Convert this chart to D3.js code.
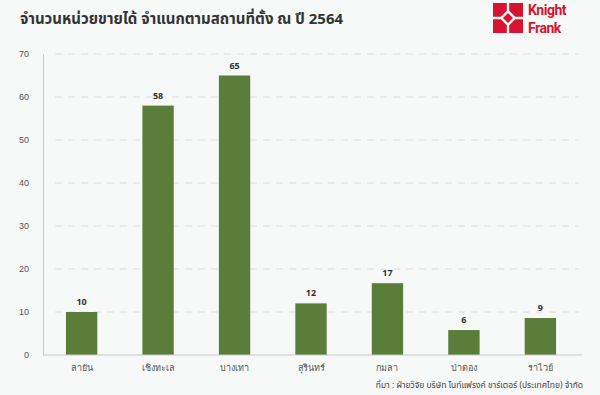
<!DOCTYPE html>
<meta charset="utf-8">
<style>
    body { margin: 0; background: #f7f8f8; }
    svg { font-family: "Noto Sans", "Noto Sans Thai", sans-serif; }
    .grid line { stroke: #dcdede; stroke-dasharray: 7,6; }
    .tick text { fill: #555; font-size: 9px; }
</style>
<body>
<script src="https://d3js.org/d3.v7.min.js"></script>
<script>
    // data
    var locations = ["ลายัน", "เชิงทะเล", "บางเทา", "สุรินทร์", "กมลา", "ป่าตอง", "ราไวย์"];
    var unitsSold = [10, 58, 65, 12, 16.7, 5.8, 8.6];
    var yTicks = [0, 10, 20, 30, 40, 50, 60, 70];

    var W = 600, H = 395;
    var margin = { top: 54, right: 21, bottom: 40, left: 43 };

    var svg = d3.select("body").append("svg")
        .attr("width", W)
        .attr("height", H);

    svg.append("rect").attr("width", W).attr("height", H).attr("fill", "#f7f8f8");

    var x = d3.scaleBand()
        .domain(locations)
        .range([margin.left, W - margin.right])
        .paddingInner(0.59)
        .paddingOuter(0.3);

    var y = d3.scaleLinear()
        .domain([0, 70])
        .range([H - margin.bottom, margin.top]);

    var fmt = d3.format(".0f");

    // dashed grid
    svg.append("g")
        .attr("class", "grid")
        .selectAll("line")
        .data(yTicks.slice(1))
        .enter().append("line")
        .attr("x1", margin.left + 12)
        .attr("x2", W - margin.right)
        .attr("y1", function(d) { return y(d); })
        .attr("y2", function(d) { return y(d); });

    // y axis
    var yAxis = svg.append("g")
        .attr("transform", "translate(" + margin.left + ",0)")
        .call(d3.axisLeft(y).tickValues(yTicks).tickSize(0).tickPadding(14));
    yAxis.select(".domain").attr("stroke", "#c8cbcb");

    // bars
    svg.selectAll(".bar")
        .data(unitsSold)
        .enter().append("rect")
        .attr("class", "bar")
        .attr("x", function(d, i) { return x(locations[i]); })
        .attr("width", x.bandwidth())
        .attr("y", function(d) { return y(d); })
        .attr("height", function(d) { return y(0) - y(d); })
        .attr("fill", "#5a7d3a");

    // value labels
    svg.selectAll(".val")
        .data(unitsSold)
        .enter().append("text")
        .attr("x", function(d, i) { return x(locations[i]) + x.bandwidth() / 2; })
        .attr("y", function(d) { return y(d) - 7; })
        .attr("text-anchor", "middle")
        .attr("font-size", 9)
        .attr("font-weight", "bold")
        .attr("fill", "#333")
        .text(function(d) { return fmt(d); });

    // x axis
    var xAxis = svg.append("g")
        .attr("transform", "translate(0," + y(0) + ")")
        .call(d3.axisBottom(x).tickSize(0).tickPadding(10));
    xAxis.select(".domain").attr("stroke", "#c8cbcb").attr("d", "M" + margin.left + ",0H" + (W - 18));

    // title
    svg.append("text")
        .attr("x", 20)
        .attr("y", 24)
        .attr("font-size", 15)
        .attr("font-weight", "bold")
        .attr("fill", "#333")
        .text("จำนวนหน่วยขายได้ จำแนกตามสถานที่ตั้ง ณ ปี 2564");

    // source
    svg.append("text")
        .attr("x", 583)
        .attr("y", 388)
        .attr("text-anchor", "end")
        .attr("font-size", 8.5)
        .attr("fill", "#444")
        .text("ที่มา : ฝ่ายวิจัย บริษัท ไนท์แฟรงค์ ชาร์เตอร์ (ประเทศไทย) จำกัด");

    // logo
    var red = "#d6142f";
    var logo = svg.append("g").attr("transform", "translate(493,3)");
    var s = 30, h = s / 2, g = 1.2, c = 6;
    // four quadrants with inner corner cut
    [[0, 0, 1, 1], [1, 0, -1, 1], [0, 1, 1, -1], [1, 1, -1, -1]].forEach(function(q) {
        var ox = q[0] * s, oy = q[1] * s, dx = q[2], dy = q[3];
        var e = h - g;
        var pts = [[ox, oy], [ox + dx * e, oy], [ox + dx * e, oy + dy * (e - c)],
                   [ox + dx * (e - c), oy + dy * e], [ox, oy + dy * e]];
        logo.append("path").attr("d", "M" + pts.join("L") + "Z").attr("fill", red);
    });
    var r = c - 1;
    logo.append("path")
        .attr("d", "M" + h + "," + (h - r) + "L" + (h + r) + "," + h + "L" + h + "," + (h + r) + "L" + (h - r) + "," + h + "Z")
        .attr("fill", red);
    logo.append("text").attr("x", 35).attr("y", 12).attr("font-size", 14).attr("font-weight", "bold")
        .attr("fill", red).attr("font-family", "Roboto, sans-serif").attr("letter-spacing", -0.5).text("Knight");
    logo.append("text").attr("x", 35).attr("y", 30).attr("font-size", 14).attr("font-weight", "bold")
        .attr("fill", red).attr("font-family", "Roboto, sans-serif").attr("letter-spacing", -0.5).text("Frank");
</script>
</body>
